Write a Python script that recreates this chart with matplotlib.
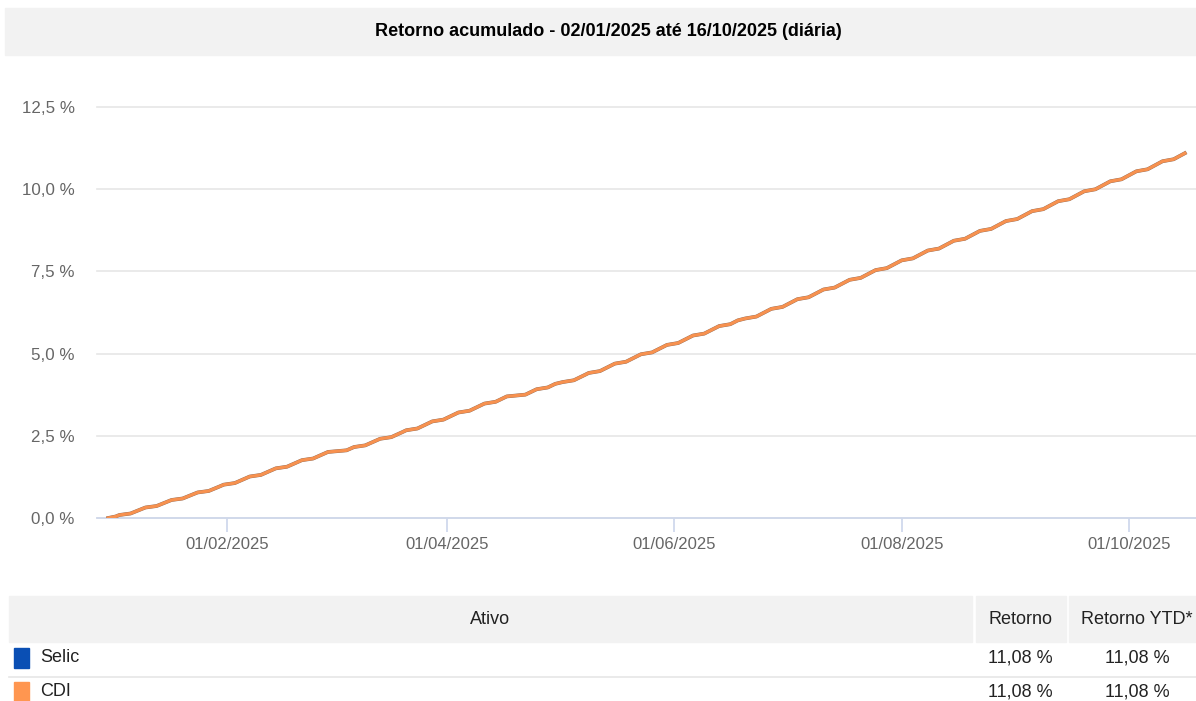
import numpy as np
import pandas as pd
import matplotlib
matplotlib.use('Agg')
import matplotlib.pyplot as plt
import matplotlib.dates as mdates
from matplotlib.patches import Rectangle
from matplotlib.lines import Line2D

plt.rcParams['font.family'] = ['Liberation Sans', 'DejaVu Sans']

# Selic / CDI effective annual rates (% a.a.) and the date each one starts
rate_start = ['2025-01-02', '2025-01-30', '2025-03-20', '2025-05-08', '2025-06-19']
selic_rate = [12.15, 13.15, 14.15, 14.65, 14.90]
cdi_rate = [12.15, 13.15, 14.15, 14.65, 14.90]
holidays = ['2025-03-03', '2025-03-04', '2025-04-18', '2025-04-21',
            '2025-05-01', '2025-06-19']
base_date = '2024-12-31'
end_date = '2025-10-16'

assets = ['Selic', 'CDI']
colors = ['#0a4fb4', '#ff9650']
retorno = ['11,08 %', '11,08 %']
retorno_ytd = ['11,08 %', '11,08 %']

xticks = ['2025-02-01', '2025-04-01', '2025-06-01', '2025-08-01', '2025-10-01']
yticks = [0, 2.5, 5.0, 7.5, 10.0, 12.5]


def cumulative(rates):
    days = pd.bdate_range('2025-01-02', end_date, freq='C', holidays=holidays)
    starts = pd.DatetimeIndex(pd.to_datetime(rate_start))
    idx = starts.searchsorted(days, side='right') - 1
    r = np.asarray(rates, dtype=float)[idx]
    acc = np.cumprod((1 + r / 100) ** (1 / 252)) - 1
    dates = pd.DatetimeIndex([pd.Timestamp(base_date)]).append(days)
    return dates.to_pydatetime(), np.concatenate([[0.0], acc * 100])


W, H = 1196, 701
fig = plt.figure(figsize=(W / 100, H / 100), dpi=100)


def fx(x):
    return x / W


def fy(y):
    return 1 - y / H


# title band
fig.patches.append(Rectangle((fx(5), fy(55)), fx(1191), 47 / H, transform=fig.transFigure,
                             color='#f2f2f2', zorder=0))
fig.text(fx(608), fy(31), 'Retorno acumulado - 02/01/2025 até 16/10/2025 (diária)',
         ha='center', va='center', fontsize=13, fontweight='bold', color='#000000')

ax = fig.add_axes([fx(97), fy(518), fx(1196 - 97), (518 - 107) / H])

d1, s1 = cumulative(selic_rate)
d2, s2 = cumulative(cdi_rate)
ax.plot(d1, s1, color='#8a6a5a', lw=2.7, solid_joinstyle='round', zorder=3)
ax.plot(d2, s2, color='#f7914f', lw=2.3, solid_joinstyle='round', zorder=4)

ax.set_ylim(0, 12.5)
ax.set_xlim(pd.Timestamp('2024-12-28'), pd.Timestamp('2025-10-19'))
ax.set_yticks(yticks)
ax.set_yticklabels([f'{v:.1f} %'.replace('.', ',') for v in yticks])
ax.set_xticks(pd.to_datetime(xticks))
ax.xaxis.set_major_formatter(mdates.DateFormatter('%d/%m/%Y'))
for s in ['top', 'right', 'left']:
    ax.spines[s].set_visible(False)
ax.spines['bottom'].set_color('#ccd6eb')
ax.spines['bottom'].set_linewidth(1.2)
ax.grid(axis='y', color='#e6e6e6', lw=1.2)
ax.set_axisbelow(True)
ax.tick_params(axis='y', length=0, pad=16, labelsize=12.2, labelcolor='#666666')
ax.tick_params(axis='x', length=10, width=1.2, color='#ccd6eb', pad=4,
               labelsize=12, labelcolor='#666666')
for t in ax.get_ygridlines():
    t.set_clip_on(False)

# table below
header_cells = [(9, 972, 'Ativo', 490), (976, 1066, 'Retorno', 1020),
                (1069, 1196, 'Retorno YTD*', 1137)]
for x0, x1, label, xc in header_cells:
    fig.patches.append(Rectangle((fx(x0), fy(642)), fx(x1 - x0), 46 / H,
                                 transform=fig.transFigure, color='#f2f2f2', zorder=0))
    fig.text(fx(xc), fy(619), label, ha='center', va='center', fontsize=13, color='#222222')

row_y = [658, 692]
for i, name in enumerate(assets):
    y = row_y[i]
    fig.patches.append(Rectangle((fx(14), fy(y + 10)), fx(15), 20 / H,
                                 transform=fig.transFigure, color=colors[i], zorder=1))
    fig.text(fx(40), fy(y), name, ha='left', va='center', fontsize=13, color='#222222')
    fig.text(fx(1020), fy(y), retorno[i], ha='center', va='center', fontsize=13, color='#222222')
    fig.text(fx(1137), fy(y), retorno_ytd[i], ha='center', va='center', fontsize=13,
             color='#222222')
fig.lines.append(Line2D([fx(9), fx(1196)], [fy(677), fy(677)], transform=fig.transFigure,
                        color='#e6e6e6', lw=1.2))

fig.savefig('out.png', dpi=100)
